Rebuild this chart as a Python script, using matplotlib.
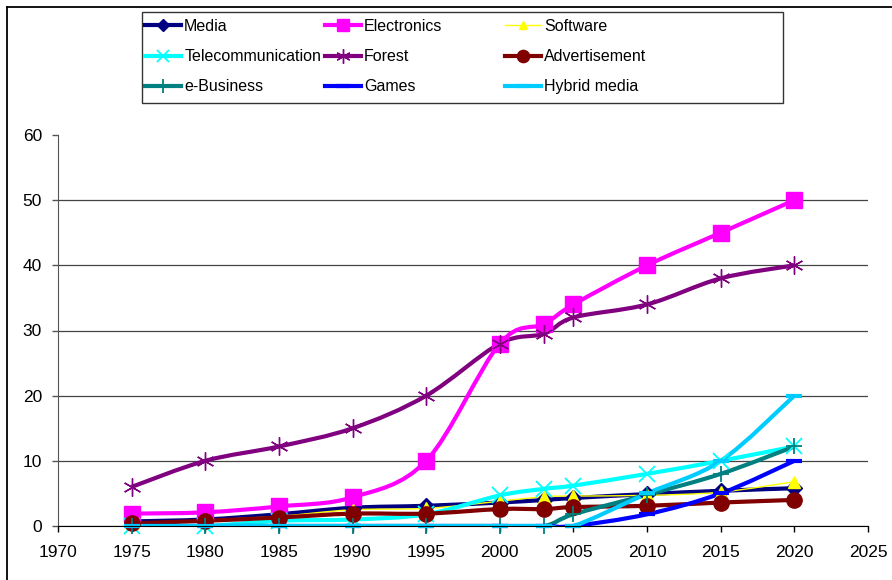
import matplotlib.pyplot as plt
import numpy as np
from matplotlib.path import Path
from matplotlib.patches import PathPatch, Rectangle
from matplotlib.lines import Line2D

plt.rcParams['font.family'] = ['Liberation Sans', 'DejaVu Sans']

years = [1975, 1980, 1985, 1990, 1995, 2000, 2003, 2005, 2010, 2015, 2020]

media = [0.7, 1.0, 1.8, 2.8, 3.1, 3.6, 4.0, 4.3, 4.9, 5.4, 5.8]
electronics = [1.9, 2.1, 3.0, 4.4, 10, 28, 31, 34, 40, 45, 50]
software = [0.5, 0.9, 1.5, 2.5, 2.7, 3.8, 4.5, 4.6, 4.7, 5.2, 6.8]
telecom = [0, 0, 0.8, 1.0, 1.8, 4.7, 5.7, 6.2, 8.0, 10, 12.2]
forest = [6, 10, 12.2, 15, 20, 28, 29.5, 32, 34, 38, 40]
advert = [0.4, 0.8, 1.3, 1.9, 1.9, 2.6, 2.6, 2.9, 3.1, 3.6, 4.0]
ebusiness = [0, 0, 0, 0, 0, 0, 0, 1.8, 4.8, 8.0, 12.2]
games = [0, 0, 0, 0, 0, 0, 0, 0, 1.8, 5.0, 10]
hybrid = [0, 0, 0, 0, 0, 0, 0, 0, 5.0, 10, 20]

# name, values, colour, line width, marker, marker size, marker edge width
series = [
    ('Media', media, '#000080', 3.0, 'D', 8, 1),
    ('Electronics', electronics, '#FF00FF', 3.0, 's', 11, 1),
    ('Software', software, '#FFFF00', 1.0, '^', 8, 1),
    ('Telecommunication', telecom, '#00FFFF', 3.0, 'x', 11, 1.3),
    ('Forest', forest, '#800080', 3.0, (6, 2, 0), 13, 1),
    ('Advertisement', advert, '#800000', 3.0, 'o', 11, 1),
    ('e-Business', ebusiness, '#008080', 3.0, '+', 12, 1.3),
    ('Games', games, '#0000FF', 3.0, '_', 12, 3),
    ('Hybrid media', hybrid, '#00CCFF', 3.0, '_', 12, 3),
]


def smooth_path(x, y):
    # catmull-rom style bezier through the points, like excel smoothed lines
    p = np.column_stack([x, y]).astype(float)
    ext = np.vstack([p[0], p, p[-1]])
    verts = [p[0]]
    codes = [Path.MOVETO]
    for i in range(len(p) - 1):
        p0, p1, p2, p3 = ext[i], ext[i + 1], ext[i + 2], ext[i + 3]
        c1 = p1 + (p2 - p0) / 6.0
        c2 = p2 - (p3 - p1) / 6.0
        verts += [c1, c2, p2]
        codes += [Path.CURVE4] * 3
    return Path(verts, codes)


fig = plt.figure(figsize=(8.92, 5.8), dpi=100)
ax = fig.add_axes([58 / 892, 54 / 580, 810 / 892, 391 / 580])

handles = []
for name, vals, col, lw, mk, ms, mew in series:
    patch = PathPatch(smooth_path(years, vals), facecolor='none', edgecolor=col,
                      lw=lw, capstyle='butt', joinstyle='round')
    ax.add_patch(patch)
    if mk in ('x', '+', '_') or isinstance(mk, tuple):
        ax.plot(years, vals, linestyle='none', marker=mk, ms=ms, mew=mew,
                color=col, clip_on=False)
    else:
        ax.plot(years, vals, linestyle='none', marker=mk, ms=ms, mew=mew,
                mfc=col, mec=col, clip_on=False)
    handles.append(Line2D([], [], color=col, lw=lw, marker=mk, ms=ms * 0.8,
                          mew=mew, mfc=col, mec=col))

ax.set_xlim(1970, 2025)
ax.set_ylim(0, 60)
ax.set_xticks(range(1970, 2026, 5))
ax.set_yticks(range(0, 61, 10))
ax.spines['top'].set_visible(False)
ax.spines['right'].set_visible(False)
ax.spines['left'].set_color('#555555')
ax.spines['bottom'].set_color('black')
ax.tick_params(axis='both', direction='out', length=4, width=1, labelsize=12.5)
ax.tick_params(axis='x', pad=10)
ax.tick_params(axis='y', colors='#555555', labelcolor='black', pad=7.5)
ax.grid(axis='y', color='#444444', lw=0.9)
ax.get_ygridlines()[-1].set_visible(False)
ax.set_axisbelow(True)

# legend: three columns, each its own legend inside one box
labels = [s[0] for s in series]
col_x = [145, 325, 505]
for c in range(3):
    idx = [c, c + 3, c + 6]
    fig.legend([handles[i] for i in idx], [labels[i] for i in idx],
               loc='upper left', bbox_to_anchor=(col_x[c] / 892, 1 - 19 / 580),
               frameon=False, fontsize=11.5, borderpad=0, borderaxespad=0,
               handlelength=2.25, handletextpad=0.2, labelspacing=0.95)

fig.patches.append(Rectangle((142 / 892, 1 - 103 / 580), 641 / 892, 91 / 580,
                             transform=fig.transFigure, fill=False,
                             edgecolor='#333333', lw=1.0))

# outer chart border (left and top edges)
fig.lines.append(Line2D([7 / 892, 7 / 892], [0, 1 - 7 / 580],
                        transform=fig.transFigure, color='black', lw=1.3))
fig.lines.append(Line2D([7 / 892, 1], [1 - 7 / 580, 1 - 7 / 580],
                        transform=fig.transFigure, color='black', lw=1.3))

fig.savefig('out.png', dpi=100)
